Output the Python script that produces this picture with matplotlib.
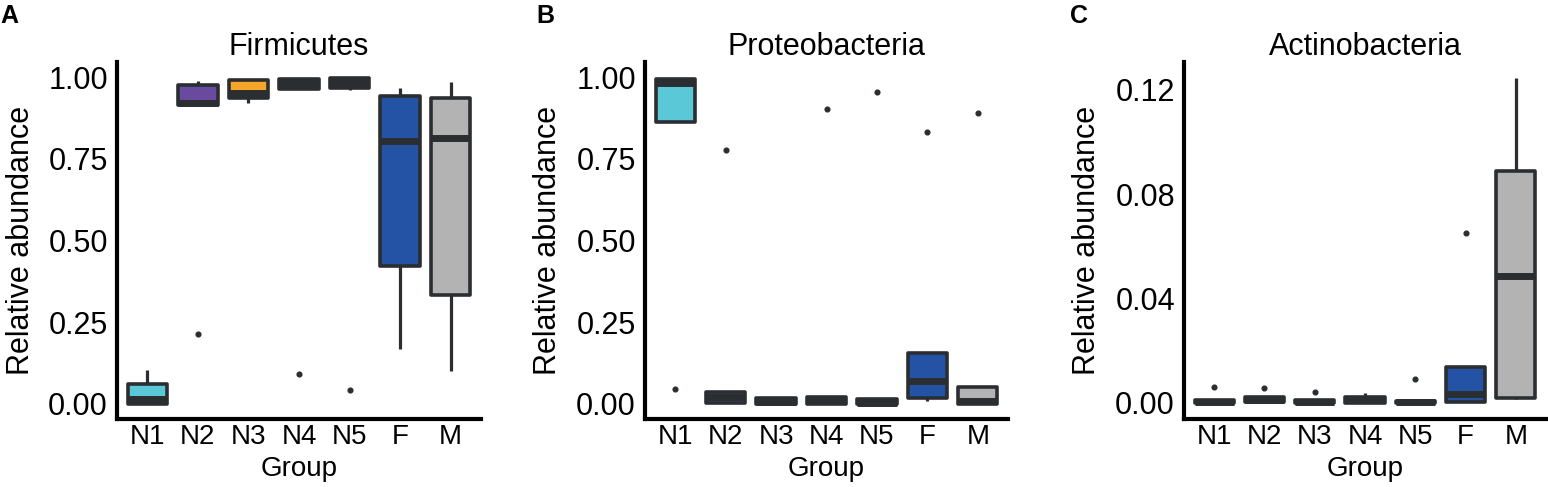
import matplotlib
matplotlib.use("Agg")
import matplotlib.pyplot as plt

plt.rcParams['font.family'] = ['Liberation Sans', 'DejaVu Sans']

groups = ["N1", "N2", "N3", "N4", "N5", "F", "M"]
fill_colors = ["#5BC8D8", "#6A4A9E", "#F5A52A", "#2B2E31", "#2B2E31", "#2453A5", "#B3B3B3"]
edge_color = "#2B2E31"

# Panel A: Firmicutes
a_q1 = [0.000, 0.914, 0.935, 0.962, 0.967, 0.422, 0.333]
a_med = [0.015, 0.922, 0.952, 0.980, 0.985, 0.805, 0.813]
a_q3 = [0.062, 0.977, 0.990, 0.993, 0.998, 0.942, 0.936]
a_lo = [0.000, 0.914, 0.920, 0.962, 0.960, 0.168, 0.101]
a_hi = [0.104, 0.988, 0.990, 0.993, 0.998, 0.966, 0.985]
a_out = [[], [0.214], [], [0.091], [0.043], [], []]

# Panel B: Proteobacteria
b_q1 = [0.862, 0.004, 0.001, 0.000, 0.000, 0.017, 0.000]
b_med = [0.982, 0.020, 0.006, 0.008, 0.004, 0.070, 0.010]
b_q3 = [0.994, 0.036, 0.017, 0.020, 0.015, 0.155, 0.052]
b_lo = [0.862, 0.004, 0.001, 0.000, 0.000, 0.008, 0.000]
b_hi = [0.994, 0.036, 0.019, 0.020, 0.015, 0.155, 0.052]
b_out = [[0.046], [0.778], [], [0.902], [0.954], [0.833], [0.890]]

# Panel C: Actinobacteria
c_q1 = [0.0000, 0.0002, 0.0000, 0.0001, 0.0000, 0.0003, 0.0020]
c_med = [0.0005, 0.0010, 0.0004, 0.0010, 0.0003, 0.0035, 0.0486]
c_q3 = [0.0012, 0.0024, 0.0010, 0.0022, 0.0008, 0.0138, 0.0888]
c_lo = [0.0000, 0.0002, 0.0000, 0.0001, 0.0000, 0.0003, 0.0013]
c_hi = [0.0012, 0.0024, 0.0010, 0.0036, 0.0008, 0.0138, 0.1246]
c_out = [[0.0059], [0.0055], [0.0040], [], [0.0092], [0.0650], []]

titles = ["Firmicutes", "Proteobacteria", "Actinobacteria"]
panel_letters = ["A", "B", "C"]
ab_ticks = [0.0, 0.25, 0.5, 0.75, 1.0]
ab_ticklabels = ["0.00", "0.25", "0.50", "0.75", "1.00"]
c_ticks = [0.0, 0.04, 0.08, 0.12]
c_ticklabels = ["0.00", "0.04", "0.08", "0.12"]

W, H = 1548, 487
fig = plt.figure(figsize=(W / 100, H / 100), dpi=100)

axes_px = [(117, 481), (645, 1008), (1184, 1546)]
top_px, bot_px = 62, 419

panels = [
    (a_q1, a_med, a_q3, a_lo, a_hi, a_out, (-0.046, 1.046), ab_ticks, ab_ticklabels),
    (b_q1, b_med, b_q3, b_lo, b_hi, b_out, (-0.046, 1.046), ab_ticks, ab_ticklabels),
    (c_q1, c_med, c_q3, c_lo, c_hi, c_out, (-0.0062, 0.1307), c_ticks, c_ticklabels),
]
letter_pos = [(0, 16), (536, 16), (1070, 16)]
ylabel_x_px = [36, 563, 1102]

FS = 22
FSX = 20
for i, (q1, med, q3, lo, hi, out, ylim, ticks, tlabels) in enumerate(panels):
    l, r = axes_px[i]
    ax = fig.add_axes([l / W, (H - bot_px) / H, (r - l) / W, (bot_px - top_px) / H])
    stats = []
    for j, g in enumerate(groups):
        stats.append(dict(label=g, q1=q1[j], med=med[j], q3=q3[j],
                          whislo=lo[j], whishi=hi[j], fliers=out[j]))
    bp = ax.bxp(stats, positions=range(1, len(groups) + 1), widths=0.78,
                patch_artist=True, showcaps=False,
                boxprops=dict(linewidth=2.6, edgecolor=edge_color, joinstyle='round'),
                medianprops=dict(color=edge_color, linewidth=5.0, solid_capstyle='butt'),
                whiskerprops=dict(color=edge_color, linewidth=2.3, solid_capstyle='butt'),
                flierprops=dict(marker='o', markersize=3.4, markerfacecolor=edge_color,
                                markeredgecolor=edge_color, linestyle='none'))
    for patch, c in zip(bp['boxes'], fill_colors):
        patch.set_facecolor(c)
        patch.set_zorder(2)
    for w in bp['whiskers']:
        w.set_zorder(1)
    for m in bp['medians']:
        m.set_zorder(3)
    ax.set_xlim(0.4, len(groups) + 0.6)
    ax.set_ylim(*ylim)
    ax.set_yticks(ticks)
    ax.set_yticklabels(tlabels)
    ax.set_xticks(range(1, len(groups) + 1))
    ax.set_xticklabels(groups)
    ax.tick_params(axis='both', length=0, colors='black')
    ax.tick_params(axis='y', pad=6.5, labelsize=FS)
    ax.tick_params(axis='x', pad=3.5, labelsize=FSX)
    for s in ['top', 'right']:
        ax.spines[s].set_visible(False)
    for s in ['left', 'bottom']:
        ax.spines[s].set_linewidth(3)
        ax.spines[s].set_color('black')
        ax.spines[s].set_capstyle('projecting')
    ax.set_title(titles[i], fontsize=FS, pad=5)
    ax.set_ylabel("Relative abundance", fontsize=FS)
    ax.yaxis.set_label_coords((ylabel_x_px[i] - l) / (r - l), 0.5)
    ax.set_xlabel("Group", fontsize=FSX)
    ax.xaxis.set_label_coords(0.5, -(456 - bot_px) / (bot_px - top_px))
    ax.xaxis.label.set_va('top')
    fig.text(letter_pos[i][0] / W, 1 - letter_pos[i][1] / H, panel_letters[i],
             fontsize=18, fontweight='bold', ha='left', va='center')

fig.savefig("out.png", dpi=100)
